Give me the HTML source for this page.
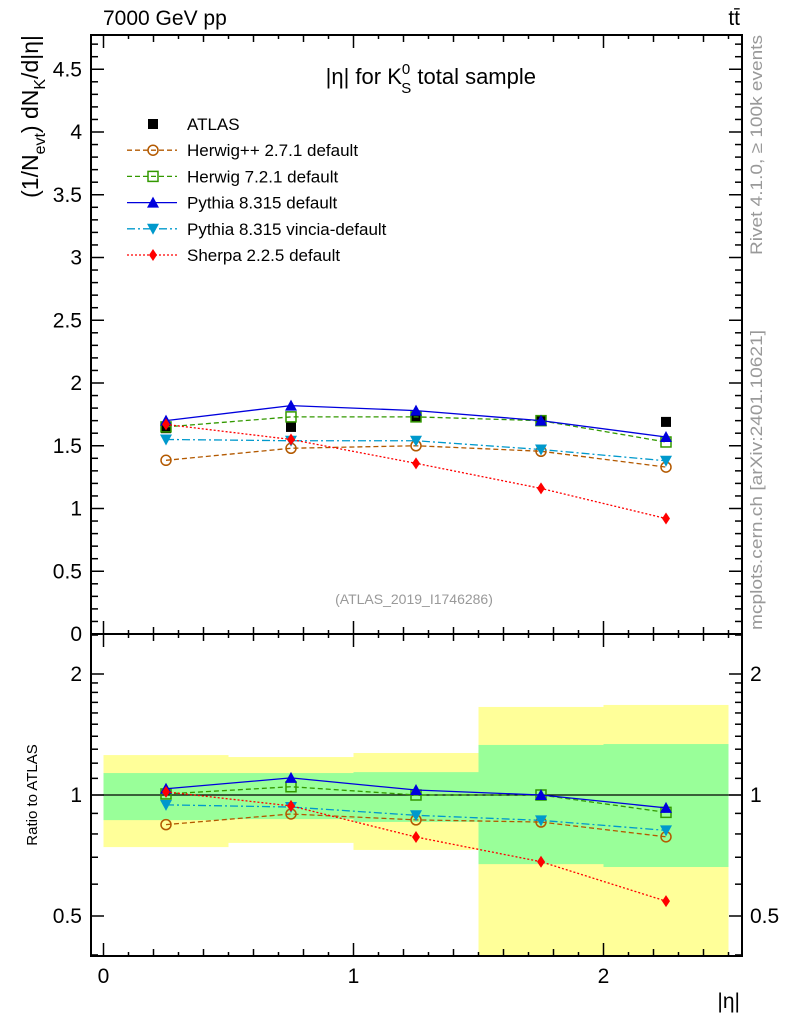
<!DOCTYPE html>
<html><head><meta charset="utf-8"><style>
html,body{margin:0;padding:0;background:#fff}
svg{display:block;font-family:"Liberation Sans",sans-serif}
</style></head><body>
<svg id="c" width="786" height="1024" xmlns="http://www.w3.org/2000/svg"></svg>
<script>
const binEdges=[0,0.5,1,1.5,2,2.5];
const xCenters=[0.25,0.75,1.25,1.75,2.25];
const atlas=[1.64,1.65,1.73,1.70,1.69];
const herwigpp=[1.384,1.48,1.50,1.456,1.33];
const herwig7=[1.65,1.73,1.73,1.70,1.53];
const pythia=[1.70,1.82,1.78,1.70,1.57];
const vincia=[1.55,1.54,1.54,1.47,1.38];
const sherpa=[1.67,1.55,1.36,1.16,0.92];
const yellowHi=[1.257,1.243,1.272,1.656,1.675];
const yellowLo=[0.742,0.760,0.730,0.30,0.30];
const greenHi=[1.134,1.134,1.14,1.332,1.339];
const greenLo=[0.866,0.871,0.857,0.673,0.662];
const mainTicks=[0,0.5,1,1.5,2,2.5,3,3.5,4,4.5];
const mainTickLabels=["0","0.5","1","1.5","2","2.5","3","3.5","4","4.5"];
const ratioTicks=[0.5,1,2];
const ratioTickLabels=["0.5","1","2"];
const xTicks=[0,1,2];
const xTickLabels=["0","1","2"];

const NS="http://www.w3.org/2000/svg";
const svg=document.getElementById('c');
const L=91,R=742,T=35,M=634,B=956;
const X=v=>103.5+v*250;
const Y=v=>634-v*125.5;
const YR=r=>795-121*Math.log2(r);
function el(tag,attrs,parent){const e=document.createElementNS(NS,tag);for(const k in attrs)e.setAttribute(k,attrs[k]);(parent||svg).appendChild(e);return e;}
function txt(s,attrs,parent){const e=el('text',attrs,parent);e.textContent=s;return e;}

const defs=el('defs',{});
const cp=el('clipPath',{id:'rc'},defs);el('rect',{x:L,y:M,width:R-L,height:B-M},cp);

const bandG=el('g',{'clip-path':'url(#rc)'});


for(let i=0;i<5;i++){
  const x0=X(binEdges[i]),x1=X(binEdges[i+1]);
  const y=el('rect',{x:x0,y:YR(yellowHi[i]),width:x1-x0,height:YR(yellowLo[i])-YR(yellowHi[i]),fill:'#ffff99'},bandG);
  
  
  const g=el('rect',{x:x0,y:YR(greenHi[i]),width:x1-x0,height:YR(greenLo[i])-YR(greenHi[i]),fill:'#99ff99'},bandG);
  
  
}
el('line',{x1:L,x2:R,y1:YR(1),y2:YR(1),stroke:'#000','stroke-width':1.3});

el('rect',{x:L,y:T,width:R-L,height:M-T,fill:'none',stroke:'#000','stroke-width':2});
el('rect',{x:L,y:M,width:R-L,height:B-M,fill:'none',stroke:'#000','stroke-width':2});

for(let k=0;k<=25;k++){
  const v=k/10,x=X(v);
  const len=(k%10===0)?13:(k%2===0?7:4);
  for(const yy of [T,M]){el('line',{x1:x,x2:x,y1:yy,y2:yy+len,stroke:'#000','stroke-width':1.5});}
  for(const yy of [M,B]){el('line',{x1:x,x2:x,y1:yy,y2:yy-len,stroke:'#000','stroke-width':1.5});}
}
xTicks.forEach((v,i)=>{const t=txt(xTickLabels[i],{x:X(v),y:983,'font-size':21,'text-anchor':'middle'});

});
const xt=txt('|η|',{x:740,y:1008,'font-size':21,'text-anchor':'end'});



for(let k=0;k<=47;k++){
  const v=k/10,y=Y(v);if(y<T)continue;
  const len=(k%5===0)?13:7;
  el('line',{x1:L,x2:L+len,y1:y,y2:y,stroke:'#000','stroke-width':1.5});
  el('line',{x1:R,x2:R-len,y1:y,y2:y,stroke:'#000','stroke-width':1.5});
}
mainTicks.forEach((v,i)=>{const t=txt(mainTickLabels[i],{x:82,y:Y(v)+7,'font-size':21,'text-anchor':'end'});

});

const rMinor=[0.4,0.5,0.6,0.7,0.8,0.9,1,1.1,1.2,1.3,1.4,1.5,1.6,1.7,1.8,1.9,2,2.5];
rMinor.forEach(v=>{const y=YR(v);if(y<M||y>B)return;const len=(v===0.5||v===1||v===2)?13:7;
  el('line',{x1:L,x2:L+len,y1:y,y2:y,stroke:'#000','stroke-width':1.5});
  el('line',{x1:R,x2:R-len,y1:y,y2:y,stroke:'#000','stroke-width':1.5});});
ratioTicks.forEach((v,i)=>{
  const a=txt(ratioTickLabels[i],{x:82,y:YR(v)+7,'font-size':21,'text-anchor':'end'});
  
  
  const b=txt(ratioTickLabels[i],{x:750,y:YR(v)+7,'font-size':21});
  
  
});

const series=[
 {name:'herwigpp',d:herwigpp,c:'#b35900',dash:'5,3',m:'circle'},
 {name:'herwig7',d:herwig7,c:'#339900',dash:'5,3',m:'square'},
 {name:'pythia',d:pythia,c:'#0000dd',dash:'',m:'tri'},
 {name:'vincia',d:vincia,c:'#0099cc',dash:'8,3,2,3',m:'itri'},
 {name:'sherpa',d:sherpa,c:'#ff0000',dash:'2,2',m:'diamond'}];
function marker(g,m,x,y,c){
  if(m==='circle')return el('circle',{cx:x,cy:y,r:5,fill:'none',stroke:c,'stroke-width':1.5},g);
  if(m==='square')return el('rect',{x:x-5,y:y-5,width:10,height:10,fill:'none',stroke:c,'stroke-width':1.5},g);
  if(m==='tri')return el('polygon',{points:`${x},${y-6} ${x-6},${y+5} ${x+6},${y+5}`,fill:c},g);
  if(m==='itri')return el('polygon',{points:`${x},${y+6} ${x-6},${y-5} ${x+6},${y-5}`,fill:c},g);
  if(m==='diamond')return el('polygon',{points:`${x},${y-6} ${x-4},${y} ${x},${y+6} ${x+4},${y}`,fill:c},g);
  return el('rect',{x:x-5,y:y-5,width:10,height:10,fill:c},g);
}
const ag=el('g',{});


atlas.forEach((v,i)=>{const p=marker(ag,'sq',X(xCenters[i]),Y(v),'#000');

});
series.forEach(s=>{
  const g=el('g',{});
  
  
  const pts=s.d.map((v,i)=>X(xCenters[i])+','+Y(v)).join(' ');
  el('polyline',{points:pts,fill:'none',stroke:s.c,'stroke-width':1.3,'stroke-dasharray':s.dash},g);
  s.d.forEach((v,i)=>{const p=marker(g,s.m,X(xCenters[i]),Y(v),s.c);
  
  });
  const rg=el('g',{'clip-path':'url(#rc)'});
  
  
  const rp=s.d.map((v,i)=>X(xCenters[i])+','+YR(v/atlas[i])).join(' ');
  el('polyline',{points:rp,fill:'none',stroke:s.c,'stroke-width':1.3,'stroke-dasharray':s.dash},rg);
  s.d.forEach((v,i)=>{const p=marker(rg,s.m,X(xCenters[i]),YR(v/atlas[i]),s.c);
  
  });
});

const leg=el('g',{});


const legNames=['ATLAS','Herwig++ 2.7.1 default','Herwig 7.2.1 default','Pythia 8.315 default','Pythia 8.315 vincia-default','Sherpa 2.2.5 default'];
legNames.forEach((n,i)=>{
  const y=124+i*26.2;
  if(i===0){marker(leg,'sq',153,y,'#000');}
  else{const s=series[i-1];
    el('line',{x1:127,x2:177,y1:y,y2:y,stroke:s.c,'stroke-width':1.3,'stroke-dasharray':s.dash},leg);
    marker(leg,s.m,153,y,s.c);}
  const t=txt(n,{x:187,y:y+6,'font-size':17},leg);
  
  
});

const t1=txt('7000 GeV pp',{x:103,y:25,'font-size':21});


const t2=txt('tt̄',{x:740,y:25,'font-size':21,'text-anchor':'end'});


const tt=el('text',{x:536,y:84,'font-size':22,'text-anchor':'end'});


tt.innerHTML='|η| for K<tspan font-size="15" dy="-10">0</tspan><tspan font-size="15" dx="-9" dy="19">S</tspan><tspan dy="-9"> total sample</tspan>';
const ref=txt('(ATLAS_2019_I1746286)',{x:414,y:604,'font-size':14,fill:'#999','text-anchor':'middle'});


const yt=el('text',{transform:'translate(38,35) rotate(-90)','font-size':23,'text-anchor':'end'});


yt.innerHTML='(1/N<tspan font-size="16" dy="7">evt</tspan><tspan dy="-7">) dN</tspan><tspan font-size="16" dy="7">K</tspan><tspan dy="-7">/d|η|</tspan>';
const rt=txt('Ratio to ATLAS',{transform:'translate(37,795) rotate(-90)','font-size':15,'text-anchor':'middle'});


const rv=txt('Rivet 4.1.0, ≥ 100k events',{transform:'translate(762,145) rotate(-90)','font-size':17,fill:'#999','text-anchor':'middle',textLength:220,lengthAdjust:'spacingAndGlyphs'});


const mc=txt('mcplots.cern.ch [arXiv:2401.10621]',{transform:'translate(762,480) rotate(-90)','font-size':17,fill:'#999','text-anchor':'middle',textLength:300,lengthAdjust:'spacingAndGlyphs'});


</script>
</body></html>
